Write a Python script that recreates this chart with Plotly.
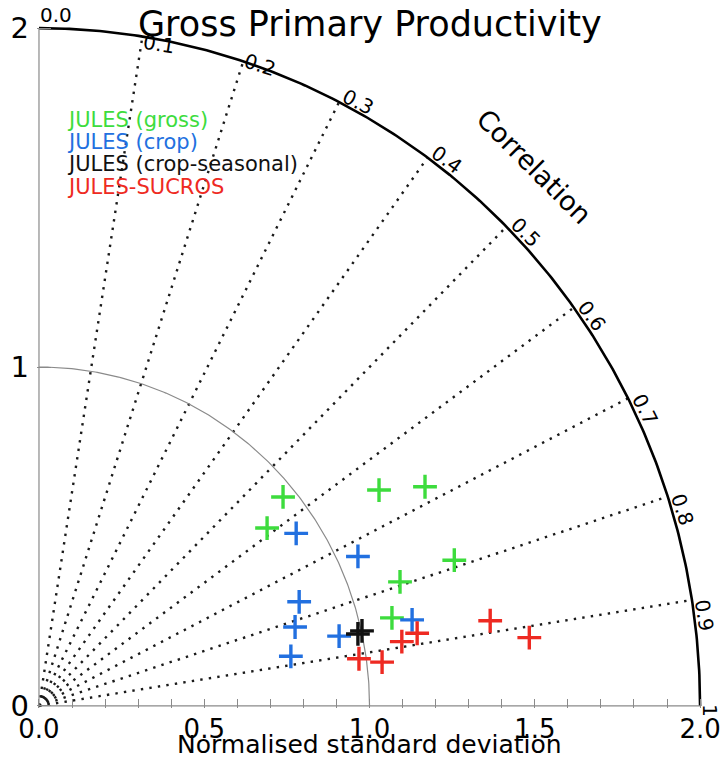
import numpy as np
import plotly.graph_objects as go

# Normalised standard deviation and correlation of each model run
gross_std = [0.962, 0.867, 1.210, 1.335, 1.328, 1.152, 1.099]
gross_corr = [0.557, 0.586, 0.647, 0.678, 0.790, 0.794, 0.848]

crop_std = [0.930, 1.061, 0.845, 0.809, 0.776, 0.931, 1.157]
crop_corr = [0.631, 0.727, 0.763, 0.814, 0.879, 0.858, 0.859]

seasonal_std = [0.988, 1.002]
seasonal_corr = [0.862, 0.858]

sucros_std = [0.978, 1.046, 1.114, 1.164, 1.388, 1.497]
sucros_corr = [0.909, 0.921, 0.891, 0.882, 0.884, 0.914]

series_names = ["JULES (gross)", "JULES (crop)", "JULES (crop-seasonal)", "JULES-SUCROS"]
series_colors = ["#3ddc3d", "#2270e0", "#111111", "#ee2a22"]

corr_ticks = [0.0, 0.1, 0.2, 0.3, 0.4, 0.5, 0.6, 0.7, 0.8, 0.9, 1.0]
corr_labels = ["0.0", "0.1", "0.2", "0.3", "0.4", "0.5", "0.6", "0.7", "0.8", "0.9", "1"]
corr_lines = [0.1, 0.2, 0.3, 0.4, 0.5, 0.6, 0.7, 0.8, 0.9]

std_ticks = [0.0, 0.5, 1.0, 1.5, 2.0]
std_labels = ["0.0", "0.5", "1.0", "1.5", "2.0"]
y_ticks = [0, 1, 2]
y_labels = ["0", "1", "2"]

R_MAX = 2.0
FONT = "DejaVu Sans"
XR = [-0.006, 2.03]
YR = [-0.006, 2.03]


def angle(c):
    # correlation is laid out linearly in angle: 0 -> vertical, 1 -> horizontal
    return (1.0 - np.asarray(c, dtype=float)) * np.pi / 2


def to_xy(s, c):
    th = angle(c)
    s = np.asarray(s, dtype=float)
    return s * np.cos(th), s * np.sin(th)


def paper(x, y):
    # data position -> paper fraction (annotations outside the axes stay visible)
    return (x - XR[0]) / (XR[1] - XR[0]), (y - YR[0]) / (YR[1] - YR[0])


fig = go.Figure()

# correlation rays
for c in corr_lines:
    th = float(angle(c))
    fig.add_trace(go.Scatter(
        x=[0, R_MAX * np.cos(th)], y=[0, R_MAX * np.sin(th)], mode="lines",
        line=dict(color="#1a1a1a", width=2.4, dash="2.4px,6.2px"),
        hoverinfo="skip", showlegend=False))

# reference standard deviation arc
t = np.linspace(0, np.pi / 2, 240)
fig.add_trace(go.Scatter(x=np.cos(t), y=np.sin(t), mode="lines",
                         line=dict(color="#8a8a8a", width=1.2),
                         hoverinfo="skip", showlegend=False))
# outer arc
fig.add_trace(go.Scatter(x=R_MAX * np.cos(t), y=R_MAX * np.sin(t), mode="lines",
                         line=dict(color="black", width=2.6),
                         hoverinfo="skip", showlegend=False))
# axis lines
fig.add_trace(go.Scatter(x=[0, R_MAX], y=[0, 0], mode="lines",
                         line=dict(color="#8a8a8a", width=1.2),
                         hoverinfo="skip", showlegend=False))
fig.add_trace(go.Scatter(x=[0, 0], y=[0, R_MAX], mode="lines",
                         line=dict(color="#8a8a8a", width=1.2),
                         hoverinfo="skip", showlegend=False))

# model points
groups = [(gross_std, gross_corr), (crop_std, crop_corr),
          (seasonal_std, seasonal_corr), (sucros_std, sucros_corr)]
for (s, c), name, col in zip(groups, series_names, series_colors):
    x, y = to_xy(s, c)
    fig.add_trace(go.Scatter(
        x=x, y=y, mode="markers", name=name,
        marker=dict(symbol="cross-thin", size=17, color=col,
                    line=dict(color=col, width=3.4)),
        showlegend=False))

annotations = []

# correlation labels along the outer arc, turned to follow it
for c, lab in zip(corr_ticks, corr_labels):
    th = float(angle(c))
    if c == 0.0:
        n_off = 0.04
    else:
        # labels near the top tuck under the title, the rest sit outside the arc
        n_off = min(0.03, -0.035 + 0.2 * c)
    t_off = 0.052 if len(lab) > 1 else 0.012
    cx = (R_MAX + n_off) * np.cos(th) + t_off * np.sin(th)
    cy = (R_MAX + n_off) * np.sin(th) - t_off * np.cos(th)
    px, py = paper(cx, cy)
    annotations.append(dict(x=px, y=py, xref="paper", yref="paper", text=lab,
                            showarrow=False, textangle=c * 90,
                            xanchor="center", yanchor="middle",
                            font=dict(family=FONT, size=20, color="black")))

px, py = paper(1.498, 1.593)
annotations.append(dict(x=px, y=py, xref="paper", yref="paper", text="Correlation",
                        showarrow=False, textangle=45,
                        xanchor="center", yanchor="middle",
                        font=dict(family=FONT, size=27, color="black")))

# title
px, py = paper(1.0, 2.012)
annotations.append(dict(x=px, y=py, xref="paper", yref="paper",
                        text="Gross Primary Productivity", showarrow=False,
                        xanchor="center", yanchor="middle",
                        font=dict(family=FONT, size=35, color="black")))

# x-axis title
px, py = paper(1.0, -0.162)
annotations.append(dict(x=px, y=py, xref="paper", yref="paper",
                        text="Normalised standard deviation", showarrow=False,
                        xanchor="center", yanchor="bottom",
                        font=dict(family=FONT, size=25, color="black")))

# coloured key
key_y = [1.729, 1.664, 1.599, 1.531]
for name, col, yy in zip(series_names, series_colors, key_y):
    px, py = paper(0.078, yy)
    annotations.append(dict(x=px, y=py, xref="paper", yref="paper", text=name,
                            showarrow=False, xanchor="left", yanchor="middle",
                            font=dict(family=FONT, size=21, color=col)))

fig.update_layout(
    width=723, height=761,
    margin=dict(l=37, r=13, t=18, b=53, autoexpand=False),
    paper_bgcolor="white", plot_bgcolor="white",
    annotations=annotations,
    xaxis=dict(range=XR, showgrid=False, zeroline=False, showline=False,
               automargin=False,
               tickmode="array", tickvals=std_ticks, ticktext=std_labels,
               ticks="inside", ticklen=9, tickcolor="#8a8a8a", tickwidth=1,
               minor=dict(ticks="inside", dtick=0.1, tick0=0, ticklen=9,
                          tickcolor="#8a8a8a", tickwidth=1, showgrid=False),
               ticklabeloverflow="allow", ticklabelstandoff=3,
               tickfont=dict(family=FONT, size=26, color="black")),
    yaxis=dict(range=YR, showgrid=False, zeroline=False, showline=False,
               automargin=False,
               tickmode="array", tickvals=y_ticks, ticktext=y_labels,
               ticks="inside", ticklen=14, tickcolor="#8a8a8a", tickwidth=1,
               ticklabelstandoff=7,
               tickfont=dict(family=FONT, size=29, color="black")),
)

fig.write_html("out.html")
